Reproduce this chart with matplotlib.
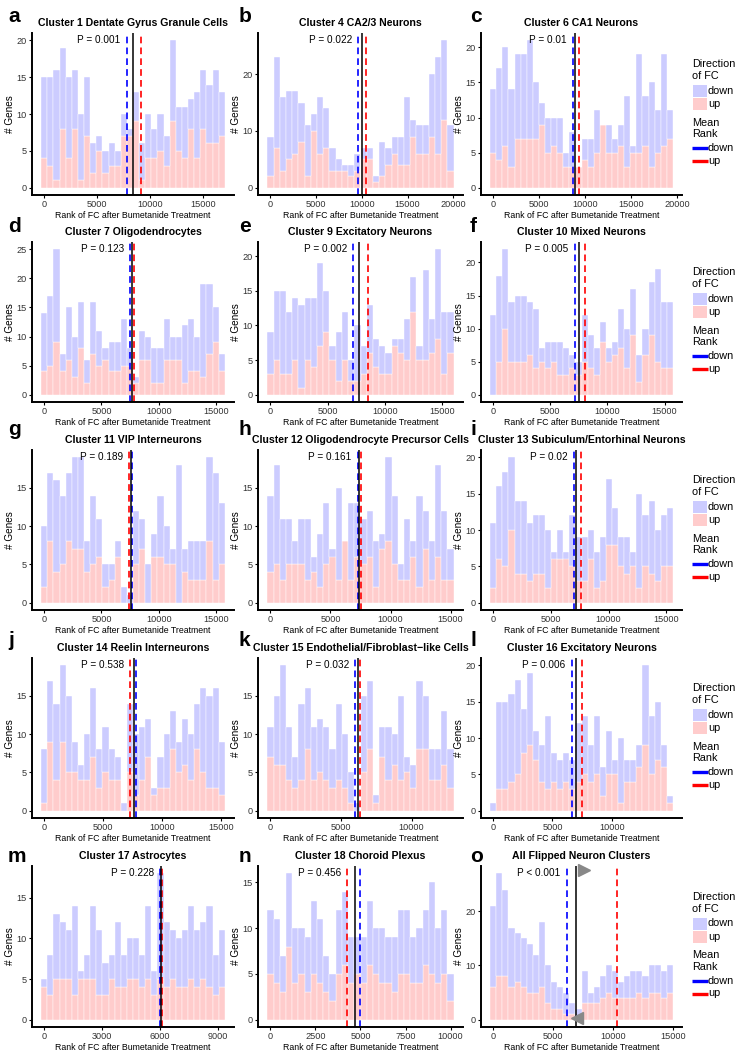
import numpy as np
import matplotlib
matplotlib.use("Agg")
import matplotlib.pyplot as plt
from matplotlib.patches import Rectangle
from matplotlib.lines import Line2D

plt.rcParams["font.family"] = ["Liberation Sans", "DejaVu Sans"]

W, H = 741, 1050
DOWN_FILL = "#CCCCFF"
UP_FILL = "#FFCCCC"

LETTERS = list("abcdefghijklmno")
TITLES = [
    "Cluster 1 Dentate Gyrus Granule Cells", "Cluster 4 CA2/3 Neurons", "Cluster 6 CA1 Neurons",
    "Cluster 7 Oligodendrocytes", "Cluster 9 Excitatory Neurons", "Cluster 10 Mixed Neurons",
    "Cluster 11 VIP Interneurons", "Cluster 12 Oligodendrocyte Precursor Cells",
    "Cluster 13 Subiculum/Entorhinal Neurons",
    "Cluster 14 Reelin Interneurons", "Cluster 15 Endothelial/Fibroblast\u2212like Cells",
    "Cluster 16 Excitatory Neurons",
    "Cluster 17 Astrocytes", "Cluster 18 Choroid Plexus", "All Flipped Neuron Clusters",
]
P_LABELS = ["P = 0.001", "P = 0.022", "P = 0.01", "P = 0.123", "P = 0.002", "P = 0.005",
            "P = 0.189", "P = 0.161", "P = 0.02", "P = 0.538", "P = 0.032", "P = 0.006",
            "P = 0.228", "P = 0.456", "P < 0.001"]

# number of ranked genes per cluster (sets the 30 histogram bins)
N_GENES = [16800, 19700, 19200, 15500, 15760, 15460, 15500, 15000, 15300, 15080, 12760, 14900,
           9200, 10000, 14700]
# mean rank of down / up genes, and overall mean (black line)
MEAN_DOWN = [7826, 9594, 8654, 7514, 7263, 7124, 7630, 7290, 6997, 7825, 6000, 6648, 6000, 4957, 6134]
MEAN_UP = [9195, 10443, 9300, 7804, 8533, 8051, 7427, 7543, 7600, 7318, 6357, 7514, 6080, 4265, 10336]
CENTER = [8385, 9963, 8941, 7630, 7765, 7530, 7543, 7402, 7169, 7600, 6190, 6983, 6040, 4670, 6890]

X_TICKS = [
    [0, 5000, 10000, 15000], [0, 5000, 10000, 15000, 20000], [0, 5000, 10000, 15000, 20000],
    [0, 5000, 10000, 15000], [0, 5000, 10000, 15000], [0, 5000, 10000, 15000],
    [0, 5000, 10000, 15000], [0, 5000, 10000, 15000], [0, 5000, 10000, 15000],
    [0, 5000, 10000, 15000], [0, 5000, 10000], [0, 5000, 10000],
    [0, 3000, 6000, 9000], [0, 2500, 5000, 7500, 10000], [0, 5000, 10000, 15000],
]
Y_TICKS = [
    [0, 5, 10, 15, 20], [0, 10, 20], [0, 5, 10, 15, 20],
    [0, 5, 10, 15, 20, 25], [0, 5, 10, 15, 20], [0, 5, 10, 15, 20],
    [0, 5, 10, 15], [0, 5, 10, 15], [0, 5, 10, 15, 20],
    [0, 5, 10, 15], [0, 5, 10, 15], [0, 5, 10, 15, 20],
    [0, 5, 10, 15], [0, 5, 10, 15], [0, 10, 20],
]

# bin counts: total genes per bin and the "up" part (down is stacked on top)
TOTAL_A = [15, 15, 16, 19, 15, 16, 10, 15, 6, 7, 5, 6, 5, 10, 8, 13, 6, 10, 8, 10, 7, 20, 11, 11, 12, 13, 16, 14, 16, 13]
UP_A = [4, 3, 1, 8, 4, 8, 1, 7, 2, 5, 2, 3, 3, 7, 7, 9, 1, 4, 4, 5, 3, 9, 5, 4, 8, 4, 8, 6, 6, 7]
TOTAL_B = [9, 23, 16, 17, 17, 15, 11, 13, 16, 14, 7, 5, 4, 4, 6, 7, 7, 2, 8, 7, 9, 9, 16, 12, 11, 11, 20, 23, 26, 11]
UP_B = [2, 7, 3, 5, 6, 8, 2, 10, 6, 7, 3, 3, 3, 2, 3, 5, 5, 1, 2, 4, 6, 4, 4, 9, 6, 6, 9, 6, 12, 3]
TOTAL_C = [14, 17, 20, 14, 19, 19, 21, 15, 12, 10, 10, 10, 5, 8, 3, 7, 7, 11, 9, 9, 7, 9, 13, 6, 19, 13, 15, 11, 19, 11]
UP_C = [5, 4, 6, 3, 7, 7, 7, 7, 9, 5, 6, 5, 3, 3, 3, 4, 3, 5, 9, 5, 5, 6, 3, 5, 5, 6, 3, 5, 6, 7]
TOTAL_D = [14, 17, 25, 7, 15, 10, 16, 6, 16, 11, 8, 9, 9, 13, 8, 3, 11, 10, 8, 8, 13, 10, 10, 12, 13, 10, 19, 19, 15, 7]
UP_D = [4, 5, 9, 4, 6, 3, 8, 2, 7, 5, 6, 4, 4, 5, 5, 2, 6, 6, 2, 2, 6, 6, 6, 2, 4, 4, 3, 7, 9, 4]
TOTAL_E = [9, 15, 15, 12, 14, 13, 14, 14, 19, 15, 7, 9, 12, 5, 10, 7, 13, 8, 7, 6, 8, 8, 11, 17, 7, 18, 11, 21, 12, 12]
UP_E = [3, 5, 3, 3, 5, 1, 5, 4, 7, 9, 5, 2, 5, 2, 2, 3, 6, 4, 3, 3, 7, 6, 5, 12, 5, 5, 6, 8, 3, 6]
TOTAL_F = [12, 18, 22, 14, 15, 15, 14, 13, 7, 8, 8, 8, 7, 6, 5, 12, 9, 7, 11, 7, 8, 13, 10, 16, 6, 10, 17, 19, 14, 14]
UP_F = [0, 5, 10, 5, 5, 5, 6, 4, 5, 4, 5, 3, 3, 4, 3, 5, 4, 3, 8, 5, 6, 7, 4, 9, 2, 6, 9, 5, 4, 4]
TOTAL_G = [10, 17, 16, 14, 17, 19, 19, 8, 14, 11, 5, 5, 8, 2, 1, 12, 11, 5, 9, 14, 10, 7, 18, 7, 8, 8, 8, 19, 17, 13]
UP_G = [2, 8, 4, 5, 8, 7, 7, 4, 5, 6, 2, 3, 6, 0, 0, 5, 7, 0, 6, 6, 5, 5, 0, 4, 3, 3, 3, 8, 3, 5]
TOTAL_H = [14, 18, 11, 11, 8, 11, 11, 6, 9, 13, 6, 15, 8, 13, 13, 11, 12, 8, 9, 19, 14, 5, 11, 8, 14, 12, 8, 18, 12, 7]
UP_H = [4, 5, 3, 5, 5, 5, 3, 4, 2, 5, 7, 3, 8, 3, 6, 5, 6, 2, 7, 8, 5, 3, 3, 6, 2, 7, 3, 6, 3, 3]
TOTAL_I = [11, 16, 18, 20, 14, 14, 11, 12, 12, 10, 6, 10, 6, 12, 9, 9, 10, 7, 9, 17, 13, 9, 9, 7, 15, 12, 14, 10, 12, 13]
UP_I = [2, 6, 5, 10, 4, 4, 3, 4, 4, 2, 7, 6, 7, 5, 3, 3, 6, 2, 3, 8, 8, 5, 4, 5, 2, 5, 4, 3, 5, 5]
TOTAL_J = [8, 17, 14, 19, 15, 9, 6, 10, 16, 8, 11, 8, 7, 1, 14, 10, 11, 12, 3, 7, 10, 13, 9, 12, 10, 14, 16, 15, 16, 9]
UP_J = [1, 9, 4, 9, 5, 5, 4, 4, 7, 3, 5, 4, 4, 0, 5, 2, 4, 7, 2, 3, 3, 8, 5, 6, 4, 8, 5, 3, 3, 2]
TOTAL_K = [11, 15, 19, 11, 7, 14, 16, 11, 12, 11, 8, 14, 10, 5, 1, 15, 17, 2, 11, 11, 10, 15, 7, 6, 17, 15, 8, 8, 13, 8]
UP_K = [7, 6, 6, 4, 3, 4, 8, 4, 5, 4, 3, 4, 3, 1, 0, 5, 8, 1, 7, 4, 6, 4, 5, 3, 8, 8, 4, 4, 6, 3]
TOTAL_L = [1, 15, 15, 16, 18, 14, 19, 11, 9, 13, 8, 7, 8, 7, 12, 13, 9, 13, 6, 11, 7, 10, 7, 7, 9, 20, 13, 15, 9, 2]
UP_L = [0, 3, 3, 4, 5, 8, 9, 7, 4, 3, 4, 3, 4, 3, 4, 5, 4, 5, 2, 5, 5, 1, 4, 4, 6, 9, 5, 7, 6, 1]
TOTAL_M = [5, 8, 13, 12, 11, 14, 6, 8, 14, 11, 7, 8, 12, 8, 10, 10, 8, 14, 6, 18, 12, 11, 10, 11, 14, 11, 12, 14, 8, 11]
UP_M = [4, 3, 5, 5, 5, 3, 5, 5, 5, 3, 3, 5, 4, 4, 5, 5, 4, 5, 3, 5, 4, 5, 4, 4, 5, 4, 5, 4, 3, 4]
TOTAL_N = [12, 11, 7, 16, 10, 10, 9, 13, 11, 7, 5, 12, 14, 9, 9, 9, 13, 10, 10, 9, 9, 12, 12, 9, 10, 12, 15, 10, 12, 5]
UP_N = [5, 4, 3, 8, 4, 5, 3, 5, 4, 3, 2, 5, 6, 4, 5, 4, 6, 5, 4, 4, 3, 5, 5, 4, 4, 6, 5, 4, 5, 2]
TOTAL_O = [21, 27, 24, 17, 16, 15, 14, 12, 18, 10, 7, 6, 5, 3, 2, 9, 5, 6, 8, 10, 9, 7, 8, 9, 9, 8, 10, 10, 9, 10]
UP_O = [6, 8, 8, 6, 7, 6, 5, 5, 6, 3, 2, 2, 1, 1, 0, 3, 3, 3, 4, 5, 4, 4, 4, 4, 5, 4, 5, 5, 4, 5]

TOTALS = [TOTAL_A, TOTAL_B, TOTAL_C, TOTAL_D, TOTAL_E, TOTAL_F, TOTAL_G, TOTAL_H,
          TOTAL_I, TOTAL_J, TOTAL_K, TOTAL_L, TOTAL_M, TOTAL_N, TOTAL_O]
UPS = [UP_A, UP_B, UP_C, UP_D, UP_E, UP_F, UP_G, UP_H, UP_I, UP_J, UP_K, UP_L, UP_M, UP_N, UP_O]

# grey arrow heads in the pooled panel (rank, count, direction)
O_MARKS = [(7600, 27.6, ">"), (7000, 0.3, "<")]

# layout in pixels
COLS = [(32, 234), (258, 463), (481, 682)]
ROWS = [(33, 195), (242, 402), (450, 610), (658, 818), (866, 1027)]
LETTER_Y = [22, 232, 435, 646, 862]
LETTER_X = [8, 239, 470]


def hist_edges(n, bins=30):
    w = (n - 1) / (bins - 1)
    return 1 - w / 2 + w * np.arange(bins + 1), w


def draw_legend(fig, x, yc):
    def fx(v):
        return v / W

    def fy(v):
        return 1 - v / H
    fs = 7.8
    fig.text(fx(x), fy(yc - 48), "Direction", fontsize=fs, va="center", ha="left")
    fig.text(fx(x), fy(yc - 36), "of FC", fontsize=fs, va="center", ha="left")
    for dy, col, lab in [(-21, DOWN_FILL, "down"), (-8, UP_FILL, "up")]:
        fig.patches.append(Rectangle((fx(x + 1), fy(yc + dy + 6)), 14 / W, 12 / H,
                                     transform=fig.transFigure, facecolor=col, edgecolor="none"))
        fig.text(fx(x + 16), fy(yc + dy), lab, fontsize=fs, va="center", ha="left")
    fig.text(fx(x), fy(yc + 11), "Mean", fontsize=fs, va="center", ha="left")
    fig.text(fx(x), fy(yc + 22), "Rank", fontsize=fs, va="center", ha="left")
    for dy, col, lab in [(36, "#0000FF", "down"), (49, "#FF0000", "up")]:
        fig.lines.append(Line2D([fx(x), fx(x + 16)], [fy(yc + dy)] * 2, transform=fig.transFigure,
                                color=col, lw=2.4, solid_capstyle="butt"))
        fig.text(fx(x + 16), fy(yc + dy), lab, fontsize=fs, va="center", ha="left")


fig = plt.figure(figsize=(W / 100, H / 100), dpi=100)

for k in range(15):
    r, c = divmod(k, 3)
    x0, x1 = COLS[c]
    y0, y1 = ROWS[r]
    ax = fig.add_axes([x0 / W, 1 - y1 / H, (x1 - x0) / W, (y1 - y0) / H])

    edges, w = hist_edges(N_GENES[k])
    centers = edges[:-1] + w / 2
    total = np.array(TOTALS[k])
    up = np.array(UPS[k])
    ax.bar(centers, up, width=w, color=UP_FILL, edgecolor="white", linewidth=0.3)
    ax.bar(centers, total - up, bottom=up, width=w, color=DOWN_FILL, edgecolor="white", linewidth=0.3)

    ax.axvline(MEAN_DOWN[k], color="#0000FF", lw=1.2, ls=(0, (4, 2.5)))
    ax.axvline(MEAN_UP[k], color="#FF0000", lw=1.2, ls=(0, (4, 2.5)))
    ax.axvline(CENTER[k], color="black", lw=1.1)
    if k == 14:
        for mx, my, mk in O_MARKS:
            ax.plot(mx, my, marker=mk, color="#888888", markersize=8, ls="none", clip_on=False)

    ymax = total.max()
    xr = edges[-1] - edges[0]
    ax.set_xlim(edges[0] - 0.05 * xr, edges[-1] + 0.05 * xr)
    ax.set_ylim(-0.05 * ymax, 1.05 * ymax)
    ax.set_xticks(X_TICKS[k])
    ax.set_yticks(Y_TICKS[k])

    left_line = min(MEAN_DOWN[k], MEAN_UP[k], CENTER[k])
    ax.annotate(P_LABELS[k], xy=(left_line, ymax), xytext=(-4.5, 0), textcoords="offset points",
                ha="right", va="center", fontsize=7.2)

    for s in ["top", "right"]:
        ax.spines[s].set_visible(False)
    for s in ["left", "bottom"]:
        ax.spines[s].set_linewidth(1.4)
    ax.tick_params(direction="out", length=2.5, width=0.8, labelsize=6.6, pad=1.2,
                   labelcolor="#333333")
    ax.set_xlabel("Rank of FC after Bumetanide Treatment", fontsize=6.3, labelpad=1.0)
    ax.set_ylabel("# Genes", fontsize=7.2, labelpad=1.0)
    ax.set_title(TITLES[k], fontsize=7.6, fontweight="bold", pad=5)

    fig.text(LETTER_X[c] / W, 1 - LETTER_Y[r] / H, LETTERS[k], fontsize=15, fontweight="bold",
             ha="left", va="baseline")
    if c == 2:
        draw_legend(fig, 692, (y0 + y1) / 2 - 2)

fig.savefig("out.png", dpi=100)
